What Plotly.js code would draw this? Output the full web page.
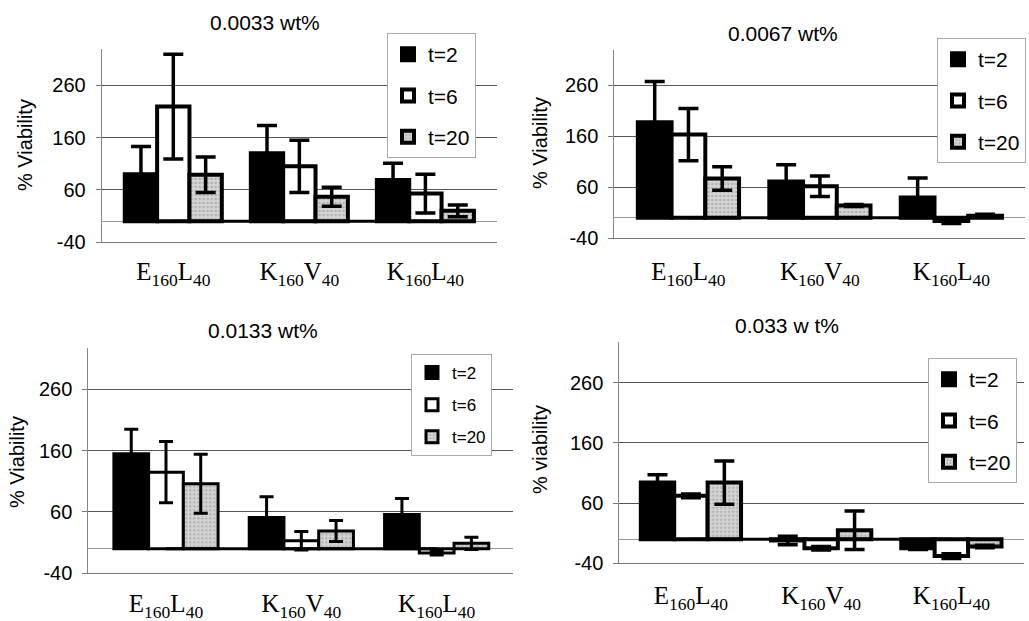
<!DOCTYPE html>
<html>
<head>
<meta charset="utf-8">
<script src="https://cdn.plot.ly/plotly-3.0.1.min.js"></script>
<style>html,body{margin:0;padding:0;background:#fff;}#chart{width:1029px;height:621px;}</style>
</head>
<body>
<div id="chart"></div>
<script>
// ---- data ----
const categories = ['E160L40', 'K160V40', 'K160L40'];
const categoryLabels = ['E<sub>160</sub>L<sub>40</sub>', 'K<sub>160</sub>V<sub>40</sub>', 'K<sub>160</sub>L<sub>40</sub>'];
const seriesNames = ['t=2', 't=6', 't=20'];
const panelTitles = ['0.0033 wt%', '0.0067 wt%', '0.0133 wt%', '0.033 w t%'];
const yTitles = ['% Viability', '% Viability', '% Viability', '% viability'];
const yTicks = [-40, 60, 160, 260];

// panel 1 : 0.0033 wt%
const p1_t2 = [90, 130, 79];   const p1_t2_err = [53, 53, 32];
const p1_t6 = [219, 105, 53];  const p1_t6_err = [100, 50, 37];
const p1_t20 = [89, 47, 20];   const p1_t20_err = [34, 18, 11];
// panel 2 : 0.0067 wt%
const p2_t2 = [187, 71, 40];   const p2_t2_err = [80, 33, 38];
const p2_t6 = [163, 62, -6];   const p2_t6_err = [51, 20, 5];
const p2_t20 = [77, 24, 4];    const p2_t20_err = [23, 2, 3];
// panel 3 : 0.0133 wt%
const p3_t2 = [155, 51, 56];   const p3_t2_err = [40, 34, 26];
const p3_t6 = [125, 13, -7];   const p3_t6_err = [50, 15, 3];
const p3_t20 = [106, 29, 9];   const p3_t20_err = [48, 17, 10];
// panel 4 : 0.033 wt%
const p4_t2 = [94, -2, -15];   const p4_t2_err = [13, 7, 2];
const p4_t6 = [72, -15, -28];  const p4_t6_err = [3, 3, 4];
const p4_t20 = [94, 15, -12];  const p4_t20_err = [36, 32, 2];

const panels = [
  {vals: [p1_t2, p1_t6, p1_t20], errs: [p1_t2_err, p1_t6_err, p1_t20_err]},
  {vals: [p2_t2, p2_t6, p2_t20], errs: [p2_t2_err, p2_t6_err, p2_t20_err]},
  {vals: [p3_t2, p3_t6, p3_t20], errs: [p3_t2_err, p3_t6_err, p3_t20_err]},
  {vals: [p4_t2, p4_t6, p4_t20], errs: [p4_t2_err, p4_t6_err, p4_t20_err]}
];

// ---- styling / layout geometry ----
const W = 1029, H = 621;
const geom = [
  {x0: 101.7, x1: 497,   yTop: 49,    yBot: 242.3, xr: [-0.568, 2.568], yr: [-40, 329], lw: 4, ew: 10, et: 3.5, so: 7,
   leg: {x: 387, y: 33, fs: 21, gap: 11}, title: {x: 265, y: 22}, ytitle: {x: 25, y: 145}},
  {x0: 614.3, x1: 1025,  yTop: 50,    yBot: 238.3, xr: [-0.564, 2.56], yr: [-40, 328.5], lw: 4, ew: 10, et: 3.5, so: 11,
   leg: {x: 937, y: 38, fs: 21, gap: 11}, title: {x: 783, y: 33}, ytitle: {x: 540, y: 143}},
  {x0: 88.3,  x1: 513,   yTop: 348.3, yBot: 573.3, xr: [-0.574, 2.564], yr: [-40, 327], lw: 3, ew: 7, et: 3, so: 8,
   leg: {x: 411, y: 354, fs: 17, gap: 7}, title: {x: 263, y: 330}, ytitle: {x: 17, y: 462}},
  {x0: 619.3, x1: 1024.3, yTop: 341.7, yBot: 563.3, xr: [-0.55, 2.56], yr: [-40, 328], lw: 4, ew: 10, et: 3.5, so: 10,
   leg: {x: 928, y: 358, fs: 21, gap: 11}, title: {x: 787, y: 325}, ytitle: {x: 540, y: 450}}
];

const fills = [
  {color: '#000000'},
  {color: '#ffffff'},
  {color: '#d4d4d4', pattern: {shape: '.', fgcolor: '#8c8c8c', size: 4, solidity: 0.3, fillmode: 'overlay'}}
];

const traces = [];
const layout = {
  width: W, height: H,
  margin: {l: 0, r: 0, t: 0, b: 0, autoexpand: false},
  paper_bgcolor: '#ffffff', plot_bgcolor: '#ffffff',
  barmode: 'group', bargap: 0.23, bargroupgap: 0,
  showlegend: true,
  annotations: [],
  font: {family: 'Liberation Sans, Arial, sans-serif', color: '#000'}
};

panels.forEach((p, i) => {
  const g = geom[i];
  const sfx = i === 0 ? '' : String(i + 1);
  const xa = 'x' + sfx, ya = 'y' + sfx;
  const legName = 'legend' + sfx;

  // zero connector line across the groups
  traces.push({
    type: 'scatter', mode: 'lines', x: categories, y: categories.map(() => 0),
    xaxis: xa, yaxis: ya, line: {color: '#000', width: 3},
    showlegend: false, hoverinfo: 'skip'
  });

  seriesNames.forEach((name, s) => {
    const marker = Object.assign({line: {color: '#000', width: g.lw}}, fills[s]);
    traces.push({
      type: 'bar', name: name, x: categories, y: p.vals[s],
      xaxis: xa, yaxis: ya, legend: legName, legendgroup: 'g' + i + '_' + s,
      marker: marker,
      error_y: {type: 'data', array: p.errs[s], visible: true, color: '#000', thickness: g.et, width: g.ew}
    });
  });

  layout['xaxis' + sfx] = {
    domain: [g.x0 / W, g.x1 / W], anchor: ya, type: 'category',
    range: g.xr, tickvals: categories, ticktext: categoryLabels,
    tickfont: {family: 'Liberation Serif, Times New Roman, serif', size: 25, color: '#000'},
    showgrid: false, zeroline: false, showline: true, linecolor: '#777', linewidth: 1,
    ticks: '', ticklabelstandoff: g.so, fixedrange: true
  };
  layout['yaxis' + sfx] = {
    domain: [1 - g.yBot / H, 1 - g.yTop / H], anchor: xa,
    range: g.yr, tickvals: yTicks, ticktext: yTicks.map(String),
    tickfont: {family: 'Liberation Sans, Arial, sans-serif', size: 20, color: '#000'},
    showgrid: true, gridcolor: '#555', gridwidth: 1,
    zeroline: true, zerolinecolor: '#999', zerolinewidth: 1,
    showline: true, linecolor: '#888', linewidth: 1,
    ticks: 'outside', ticklen: 5, tickcolor: '#777', ticklabelstandoff: 6, fixedrange: true
  };
  layout[legName] = {
    x: g.leg.x / W, y: 1 - g.leg.y / H, xanchor: 'left', yanchor: 'top',
    bgcolor: '#ffffff', bordercolor: '#aaaaaa', borderwidth: 1,
    font: {family: 'Liberation Sans, Arial, sans-serif', size: g.leg.fs, color: '#000'},
    tracegroupgap: g.leg.gap, traceorder: 'grouped', itemwidth: 30,
    itemclick: false, itemdoubleclick: false
  };
  layout.annotations.push({
    xref: 'paper', yref: 'paper', x: g.title.x / W, y: 1 - g.title.y / H,
    xanchor: 'center', yanchor: 'middle', showarrow: false, text: panelTitles[i],
    font: {family: 'Liberation Sans, Arial, sans-serif', size: 21, color: '#000'}
  });
  layout.annotations.push({
    xref: 'paper', yref: 'paper', x: g.ytitle.x / W, y: 1 - g.ytitle.y / H,
    xanchor: 'center', yanchor: 'middle', showarrow: false, text: yTitles[i], textangle: -90,
    font: {family: 'Liberation Sans, Arial, sans-serif', size: 20, color: '#000'}
  });
});

Plotly.newPlot('chart', traces, layout, {displayModeBar: false, staticPlot: true});
</script>
</body>
</html>
